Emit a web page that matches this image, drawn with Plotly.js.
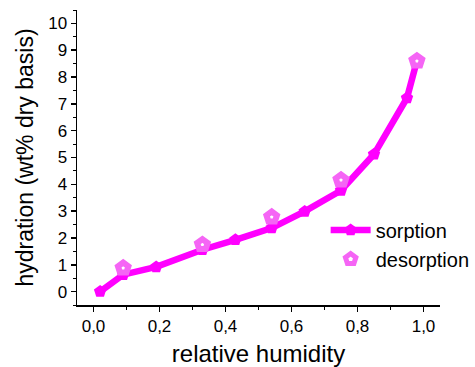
<!DOCTYPE html>
<html><head><meta charset="utf-8">
<script src="https://cdn.plot.ly/plotly-3.0.1.min.js"></script>
<style>html,body{margin:0;padding:0;background:#fff}#c{width:475px;height:367px}</style>
</head><body><div id="c"></div>
<script>
const sorptionRH = [0.02, 0.09, 0.19, 0.33, 0.43, 0.54, 0.64, 0.75, 0.85, 0.95, 0.98];
const sorptionH  = [0.0, 0.63, 0.92, 1.56, 1.93, 2.37, 2.99, 3.77, 5.12, 7.22, 8.6];
const desorptionRH = [0.09, 0.33, 0.54, 0.75, 0.98];
const desorptionH  = [0.88, 1.75, 2.78, 4.16, 8.6];
const xTicks = [0, 0.2, 0.4, 0.6, 0.8, 1.0];
const yTicks = [0,1,2,3,4,5,6,7,8,9,10];

const traces = [
  {x: sorptionRH, y: sorptionH, name: 'sorption', type: 'scatter', mode: 'lines+markers',
   line: {color: '#FF00FF', width: 6.5},
   marker: {symbol: 'pentagon', size: 13, color: '#FF00FF'}},
  {x: desorptionRH, y: desorptionH, name: 'desorption', type: 'scatter', mode: 'markers',
   marker: {symbol: 'pentagon', size: 11, color: '#FFFFFF', line: {color: '#F565F5', width: 6}}}
];
const layout = {
  width: 475, height: 367,
  margin: {l: 77, r: 35, t: 10, b: 62, autoexpand: false},
  paper_bgcolor: '#fff', plot_bgcolor: '#fff',
  separators: ',.',
  font: {family: 'Arial, Liberation Sans, sans-serif', color: '#000'},
  showlegend: true,
  legend: {x: 0.685, xanchor: 'left', y: 0.32, yanchor: 'top', bgcolor: 'rgba(0,0,0,0)',
           font: {size: 20}, tracegroupgap: 0, itemwidth: 40},
  xaxis: {range: [-0.05, 1.05], tickvals: xTicks, tickformat: '.1f', showgrid: false, zeroline: false,
          showline: true, linecolor: '#000', linewidth: 1.5, ticks: 'outside', ticklen: 5, tickwidth: 1.5, tickcolor: '#000',
          tickfont: {size: 17},
          minor: {dtick: 0.1, ticks: 'outside', ticklen: 3, tickwidth: 1, tickcolor: '#000', showgrid: false},
          title: {text: 'relative humidity', font: {size: 24}, standoff: 12}},
  yaxis: {range: [-0.5, 10.5], tickvals: yTicks, showgrid: false, zeroline: false,
          showline: true, linecolor: '#000', linewidth: 1.5, ticks: 'outside', ticklen: 5, tickwidth: 1.5, tickcolor: '#000',
          tickfont: {size: 17},
          minor: {dtick: 0.5, ticks: 'outside', ticklen: 3, tickwidth: 1, tickcolor: '#000', showgrid: false},
          title: {text: 'hydration (wt% dry basis)', font: {size: 23}, standoff: 8}}
};
Plotly.newPlot('c', traces, layout, {displayModeBar: false, staticPlot: true});
</script></body></html>
